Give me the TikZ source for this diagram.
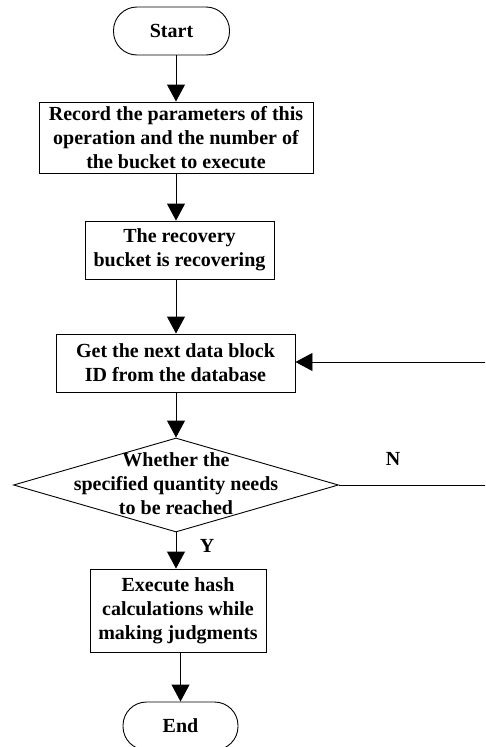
\documentclass[tikz,border=0pt]{standalone}
\usepackage{fontspec}
\setmainfont{Liberation Serif}
\usetikzlibrary{arrows.meta,shapes.geometric}
\begin{document}
\begin{tikzpicture}[x=1pt,y=-1pt,
  font=\bfseries\fontsize{20}{24}\selectfont,
  box/.style={draw,line width=0.9pt,inner sep=0pt,align=center},
  term/.style={box,rounded corners=23.5pt},
  arr/.style={line width=0.9pt,-{Triangle[width=18pt,length=17pt]}},
  ln/.style={line width=0.9pt}]
\useasboundingbox (0,0) rectangle (485,747);
\clip (0,0) rectangle (485,747);
\node[term,minimum width=116pt,minimum height=48pt] (start) at (171.5,31) {Start};
\node[box,minimum width=274pt,minimum height=71pt] (b1) at (176,137.5) {Record the parameters of this\\operation and the number of\\the bucket to execute};
\node[box,minimum width=189pt,minimum height=58pt] (b2) at (179.5,250) {The recovery\\bucket is recovering};
\node[box,minimum width=239pt,minimum height=58pt] (b3) at (175.5,363) {Get the next data block\\ID from the database};
\node[diamond,draw,line width=0.9pt,inner sep=0pt,minimum width=325pt,minimum height=94pt] (d) at (176,485) {};
\node[align=center,inner sep=0pt] (dt) at (176,484) {Whether the\\specified quantity needs\\to be reached};
\node[box,minimum width=176pt,minimum height=83pt] (b4) at (178,610.5) {Execute hash\\calculations while\\making judgments};
\node[term,minimum width=115pt,minimum height=48pt] (end) at (180.5,726) {End};
\node (n) at (393,459) {N};
\node (y) at (207,546) {Y};
\coordinate (r1) at (500,485);
\coordinate (r2) at (500,362);
\draw[arr] (start.south -| b1.north) -- (b1.north);
\draw[arr] (b1.south) -- (b1.south |- b2.north);
\draw[arr] (b1.south |- b2.south) -- (b1.south |- b3.north);
\draw[arr] (b1.south |- b3.south) -- (d.north);
\draw[arr] (d.south) -- (d.south |- b4.north);
\draw[arr] (end.north |- b4.south) -- (end.north);
\draw[ln] (d.east) -- (r1) -- (r2);
\draw[arr] (r2) -- (r2 -| b3.east);
\end{tikzpicture}
\end{document}
